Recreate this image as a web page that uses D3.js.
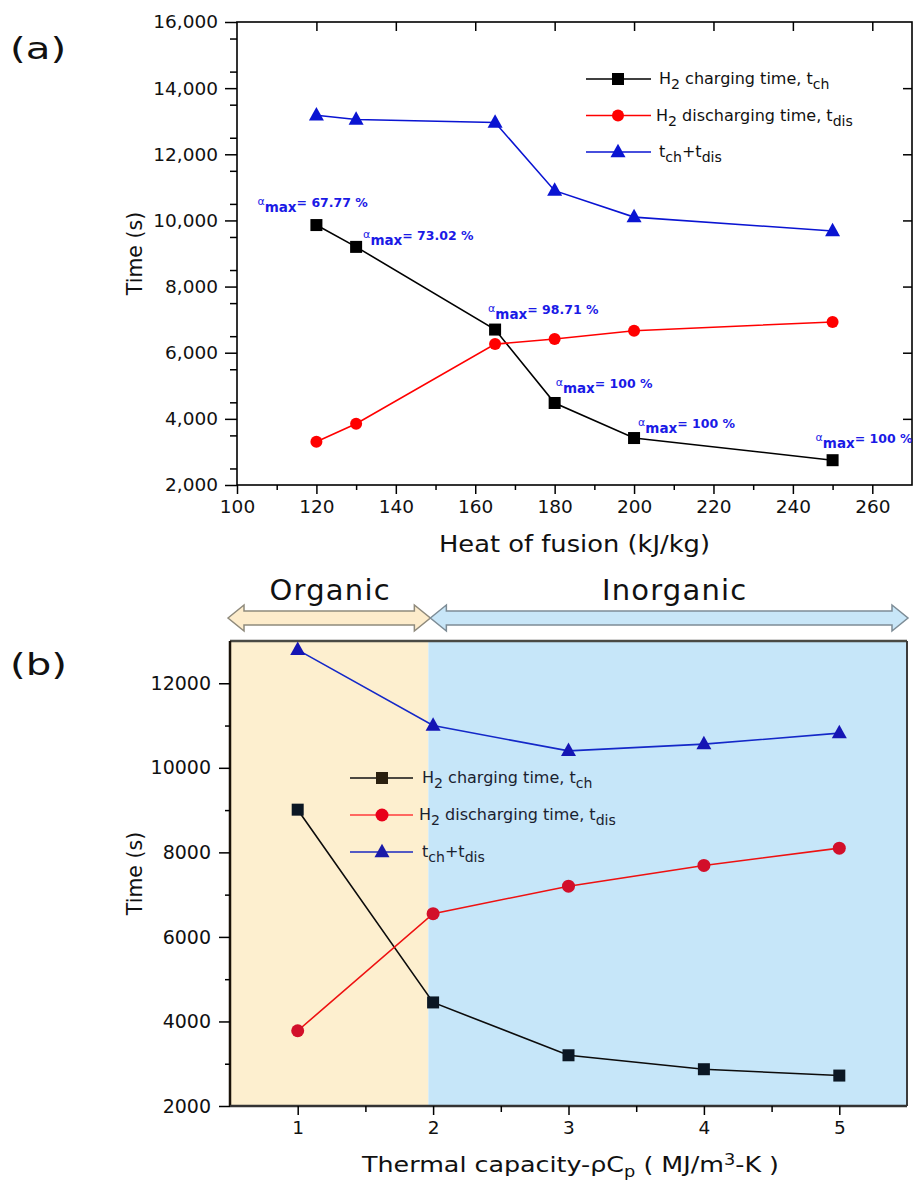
<!DOCTYPE html>
<html><head><meta charset="utf-8">
<script src="https://cdn.jsdelivr.net/npm/d3@7"></script>
<style>
html,body{margin:0;padding:0;background:#fff;}
svg{display:block;}
text{font-family:"DejaVu Sans",sans-serif;}
</style></head>
<body>
<script>
// ---------- data: panel (a) ----------
const heatX = [120, 130, 165, 180, 200, 250];
const heatCharge = [9860, 9200, 6700, 4480, 3420, 2750];
const heatDischarge = [3310, 3850, 6260, 6415, 6665, 6930];
const heatTotal = [13180, 13050, 12960, 10900, 10100, 9680];
const alphaMax = ["67.77", "73.02", "98.71", "100", "100", "100"];
const heatTicks = [100, 120, 140, 160, 180, 200, 220, 240, 260];
const timeTicksA = [2000, 4000, 6000, 8000, 10000, 12000, 14000, 16000];
// ---------- data: panel (b) ----------
const capX = [1, 2, 3, 4, 5];
const capCharge = [9010, 4450, 3200, 2870, 2720];
const capDischarge = [3780, 6550, 7200, 7690, 8100];
const capTotal = [12790, 11000, 10400, 10560, 10820];
const capTicks = [1, 2, 3, 4, 5];
const timeTicksB = [2000, 4000, 6000, 8000, 10000, 12000];
const regionNames = ["Organic", "Inorganic"];
const organicLimit = 1.965;

const W = 914, H = 1184;
const svg = d3.select("body").append("svg").attr("width", W).attr("height", H);

// rich text helper: parts [text, mode] mode: n / sub / sup
function rich(g, x, y, parts, opts) {
  const t = g.append("text").attr("x", x).attr("y", y)
    .attr("font-size", opts.size).attr("fill", opts.fill || "#000")
    .attr("font-family", opts.family || "DejaVu Sans, sans-serif");
  let cur = 0;
  const subK = opts.subShift || 0.32;
  parts.forEach(([s, m]) => {
    const target = m === "sub" ? opts.size * subK : (m === "sup" ? -opts.size * 0.32 : 0);
    const sp = t.append("tspan").attr("dy", target - cur).text(s);
    if (m === "sub" || m === "sup") sp.attr("font-size", opts.size * (opts.subScale || 0.8));
    cur = target;
  });
  return t;
}

function marker(g, type, x, y, color, s) {
  if (type === "square") {
    g.append("rect").attr("x", x - s / 2).attr("y", y - s / 2).attr("width", s).attr("height", s).attr("fill", color);
  } else if (type === "circle") {
    g.append("circle").attr("cx", x).attr("cy", y).attr("r", s / 2).attr("fill", color);
  } else {
    const h = s * 0.9;
    g.append("path").attr("d", `M${x},${y - h * 0.62}L${x + s / 2},${y + h * 0.38}L${x - s / 2},${y + h * 0.38}Z`).attr("fill", color);
  }
}

// ================= PANEL (a) =================
const xA = d3.scaleLinear().domain([100, 270]).range([237, 912]);
const yA = d3.scaleLinear().domain([2000, 16000]).range([485, 22]);
const gA = svg.append("g");

svg.append("text").attr("transform", "translate(10,59) scale(1.3,1)").attr("font-family", "Open Sans, sans-serif")
  .attr("font-size", 31).attr("fill", "#111").text("(a)");

// frame
gA.append("rect").attr("x", xA(100)).attr("y", yA(16000)).attr("width", xA(270) - xA(100))
  .attr("height", yA(2000) - yA(16000)).attr("fill", "none").attr("stroke", "#000").attr("stroke-width", 1.6);

// left axis
const axL = gA.append("g").attr("transform", `translate(${xA(100)},0)`)
  .call(d3.axisLeft(yA).tickValues(timeTicksA).tickSize(12).tickPadding(7).tickFormat(d3.format(",")));
axL.select(".domain").remove();
axL.selectAll("text").attr("font-size", 18.5).attr("font-family", "DejaVu Sans").attr("fill", "#111");
axL.selectAll("line").attr("stroke-width", 1.5);
gA.append("g").attr("transform", `translate(${xA(100)},0)`)
  .call(d3.axisLeft(yA).tickValues(d3.range(2500, 16000, 1000)).tickSize(7).tickFormat(""))
  .call(s => { s.select(".domain").remove(); s.selectAll("line").attr("stroke-width", 1.5); });
// bottom axis
const axB = gA.append("g").attr("transform", `translate(0,${yA(2000)})`)
  .call(d3.axisBottom(xA).tickValues(heatTicks).tickSize(9).tickPadding(6));
axB.select(".domain").remove();
axB.selectAll("text").attr("font-size", 18.5).attr("font-family", "DejaVu Sans").attr("fill", "#111");
axB.selectAll("line").attr("stroke-width", 1.5);
gA.append("g").attr("transform", `translate(0,${yA(2000)})`)
  .call(d3.axisBottom(xA).tickValues(d3.range(110, 270, 20)).tickSize(5).tickFormat(""))
  .call(s => { s.select(".domain").remove(); s.selectAll("line").attr("stroke-width", 1.5); });
// top & right inward ticks
gA.append("g").attr("transform", `translate(0,${yA(16000)})`)
  .call(d3.axisBottom(xA).tickValues(heatTicks.slice(1)).tickSize(9).tickFormat(""))
  .call(s => { s.select(".domain").remove(); s.selectAll("line").attr("stroke-width", 1.5); });
gA.append("g").attr("transform", `translate(${xA(270)},0)`)
  .call(d3.axisLeft(yA).tickValues(timeTicksA.slice(1, -1)).tickSize(9).tickFormat(""))
  .call(s => { s.select(".domain").remove(); s.selectAll("line").attr("stroke-width", 1.5); });

// titles
gA.append("text").attr("transform", `translate(142,${(yA(2000) + yA(16000)) / 2}) rotate(-90)`)
  .attr("text-anchor", "middle").attr("font-size", 20.5).attr("fill", "#111").text("Time (s)");
gA.append("text").attr("transform", `translate(${(xA(100) + xA(270)) / 2},552) scale(1.12,1)`).attr("text-anchor", "middle")
  .attr("font-size", 23).attr("fill", "#111").text("Heat of fusion (kJ/kg)");

const seriesA = [
  { vals: heatCharge, color: "#000000", mcolor: "#000000", type: "square", size: 12 },
  { vals: heatDischarge, color: "#ff0000", mcolor: "#ff0000", type: "circle", size: 12 },
  { vals: heatTotal, color: "#0a14d2", mcolor: "#0a14d2", type: "triangle", size: 15 }
];
const lineA = d3.line().x(d => xA(d[0])).y(d => yA(d[1]));
seriesA.forEach(s => {
  const pts = heatX.map((x, i) => [x, s.vals[i]]);
  gA.append("path").attr("d", lineA(pts)).attr("fill", "none").attr("stroke", s.color).attr("stroke-width", 1.6);
  pts.forEach(p => marker(gA, s.type, xA(p[0]), yA(p[1]), s.mcolor, s.size));
});

// alpha annotations
const alphaOffsets = [[-59, -18], [7, -7], [-7, -16], [1, -15], [4, -10], [-17, -17]];
heatX.forEach((x, i) => {
  const px = xA(x) + alphaOffsets[i][0], py = yA(heatCharge[i]) + alphaOffsets[i][1];
  const t = gA.append("text").attr("x", px).attr("y", py).attr("fill", "#1a1ae6")
    .attr("font-family", "Liberation Sans, Arial, sans-serif").attr("font-weight", "bold").attr("font-size", 12.5);
  t.append("tspan").attr("font-size", 11).attr("font-weight", "normal").attr("dy", -2).text("α");
  t.append("tspan").attr("font-size", 13.5).attr("dy", 7).text("max");
  t.append("tspan").attr("dy", -5).text("= " + alphaMax[i] + " %");
});

// legend (a)
const legA = [
  [["H", "n"], ["2", "sub"], [" charging time, t", "n"], ["ch", "sub"]],
  [["H", "n"], ["2", "sub"], [" discharging time, t", "n"], ["dis", "sub"]],
  [["t", "n"], ["ch", "sub"], ["+t", "n"], ["dis", "sub"]]
];
legA.forEach((parts, i) => {
  const y = 79 + i * 36.5;
  const s = seriesA[i];
  gA.append("line").attr("x1", 586).attr("x2", 651).attr("y1", y).attr("y2", y).attr("stroke", s.color).attr("stroke-width", 1.6);
  marker(gA, s.type, 618, y, s.mcolor, s.size);
  rich(gA, i === 1 ? 656 : 659, y + 5, parts, { size: 16, fill: "#111", subScale: 0.88 });
});

// ================= PANEL (b) =================
const xB = d3.scaleLinear().domain([0.5, 5.5]).range([230, 907]);
const yB = d3.scaleLinear().domain([2000, 13000]).range([1106, 641]);
const gB = svg.append("g");

svg.append("text").attr("transform", "translate(10,675) scale(1.3,1)").attr("font-family", "Open Sans, sans-serif")
  .attr("font-size", 31).attr("fill", "#111").text("(b)");

// background regions
gB.append("rect").attr("x", xB(0.5)).attr("y", yB(13000)).attr("width", xB(organicLimit) - xB(0.5))
  .attr("height", yB(2000) - yB(13000)).attr("fill", "#fdefcf");
gB.append("rect").attr("x", xB(organicLimit)).attr("y", yB(13000)).attr("width", xB(5.5) - xB(organicLimit))
  .attr("height", yB(2000) - yB(13000)).attr("fill", "#c6e6f9");

// arrows
function dblArrow(x0, x1, yc, fill, stroke) {
  const hh = 13, sh = 7, hl = 16;
  const pts = [[x0, yc], [x0 + hl, yc - hh], [x0 + hl, yc - sh], [x1 - hl, yc - sh], [x1 - hl, yc - hh], [x1, yc],
    [x1 - hl, yc + hh], [x1 - hl, yc + sh], [x0 + hl, yc + sh], [x0 + hl, yc + hh]];
  gB.append("path").attr("d", "M" + pts.map(p => p.join(",")).join("L") + "Z")
    .attr("fill", fill).attr("stroke", stroke).attr("stroke-width", 1.5);
}
const arrowMid = xB(organicLimit) + 2;
dblArrow(xB(0.5) - 2, arrowMid, 618, "#fdeccb", "#8f8a7c");
dblArrow(arrowMid, xB(5.5) + 1, 618, "#c8e6f8", "#7d8c96");
gB.append("text").attr("x", (xB(0.5) + arrowMid) / 2).attr("y", 600).attr("text-anchor", "middle")
  .attr("font-family", "Open Sans, sans-serif").attr("font-size", 29).attr("letter-spacing", 1.2).attr("fill", "#111").text(regionNames[0]);
gB.append("text").attr("x", (arrowMid + xB(5.5)) / 2 + 6).attr("y", 600).attr("text-anchor", "middle")
  .attr("font-family", "Open Sans, sans-serif").attr("font-size", 29).attr("letter-spacing", 1.2).attr("fill", "#111").text(regionNames[1]);

// frame
gB.append("line").attr("x1", xB(0.5)).attr("x2", xB(5.5)).attr("y1", yB(13000)).attr("y2", yB(13000)).attr("stroke", "#4a4a44").attr("stroke-width", 2.5);
gB.append("line").attr("x1", xB(5.5)).attr("x2", xB(5.5)).attr("y1", yB(13000)).attr("y2", yB(2000)).attr("stroke", "#3c3c3c").attr("stroke-width", 2);

const axBL = gB.append("g").attr("transform", `translate(${xB(0.5)},0)`)
  .call(d3.axisLeft(yB).tickValues(timeTicksB).tickSize(11).tickPadding(8).tickFormat(d3.format("d")));
axBL.select(".domain").attr("d", `M0,${yB(13000)}V${yB(2000)}`).attr("stroke", "#1a1209").attr("stroke-width", 2.5);
axBL.selectAll("text").attr("font-size", 19).attr("font-family", "DejaVu Sans").attr("fill", "#111");
axBL.selectAll("line").attr("stroke-width", 1.5);
gB.append("g").attr("transform", `translate(${xB(0.5)},0)`)
  .call(d3.axisLeft(yB).tickValues(d3.range(3000, 13000, 2000)).tickSize(5).tickFormat(""))
  .call(s => { s.select(".domain").remove(); s.selectAll("line").attr("stroke-width", 1.5); });
const axBB = gB.append("g").attr("transform", `translate(0,${yB(2000)})`)
  .call(d3.axisBottom(xB).tickValues(capTicks).tickSize(9).tickPadding(6).tickFormat(d3.format("d")));
axBB.select(".domain").attr("d", `M${xB(0.5)},0H${xB(5.5)}`).attr("stroke", "#333").attr("stroke-width", 2.5);
axBB.selectAll("text").attr("font-size", 18.5).attr("font-family", "DejaVu Sans").attr("fill", "#111");
axBB.selectAll("line").attr("stroke-width", 1.5);
gB.append("g").attr("transform", `translate(0,${yB(2000)})`)
  .call(d3.axisBottom(xB).tickValues([1.5, 2.5, 3.5, 4.5]).tickSize(6).tickFormat(""))
  .call(s => { s.select(".domain").remove(); s.selectAll("line").attr("stroke-width", 1.5); });

gB.append("text").attr("transform", `translate(142,${(yB(2000) + yB(13000)) / 2}) rotate(-90)`)
  .attr("text-anchor", "middle").attr("font-size", 20.5).attr("fill", "#111").text("Time (s)");
const xt = rich(gB, 0, 0, [["Thermal capacity-ρC", "n"], ["p", "sub"], [" ( MJ/m", "n"], ["3", "sup"], ["-K )", "n"]],
  { size: 21.5, fill: "#111", subScale: 0.7, subShift: 0.22 });
xt.attr("text-anchor", "middle").attr("transform", `translate(${(xB(0.5) + xB(5.5)) / 2 + 2},1172) scale(1.18,1)`);

const seriesB = [
  { vals: capCharge, color: "#0c0c0c", mcolor: "#0b1724", type: "square", size: 12 },
  { vals: capDischarge, color: "#ee1111", mcolor: "#d20f2a", type: "circle", size: 13 },
  { vals: capTotal, color: "#1428c8", mcolor: "#1515b4", type: "triangle", size: 15 }
];
const lineB = d3.line().x(d => xB(d[0])).y(d => yB(d[1]));
seriesB.forEach(s => {
  const pts = capX.map((x, i) => [x, s.vals[i]]);
  gB.append("path").attr("d", lineB(pts)).attr("fill", "none").attr("stroke", s.color).attr("stroke-width", 1.6);
  pts.forEach(p => marker(gB, s.type, xB(p[0]), yB(p[1]), s.mcolor, s.size));
});

// legend (b)
const legBColors = [["#111", "#2a1f0e"], ["#ff3b3b", "#e8001a"], ["#1a28c0", "#1a1aa8"]];
legA.forEach((parts, i) => {
  const y = 778 + i * 37;
  const s = seriesB[i];
  gB.append("line").attr("x1", 350).attr("x2", 413).attr("y1", y).attr("y2", y).attr("stroke", legBColors[i][0]).attr("stroke-width", 1.6);
  marker(gB, s.type, 382, y, legBColors[i][1], s.size);
  rich(gB, i === 1 ? 419 : 422, y + 5, parts, { size: 16, fill: "#1a2230", subScale: 0.88 });
});
</script>
</body></html>
